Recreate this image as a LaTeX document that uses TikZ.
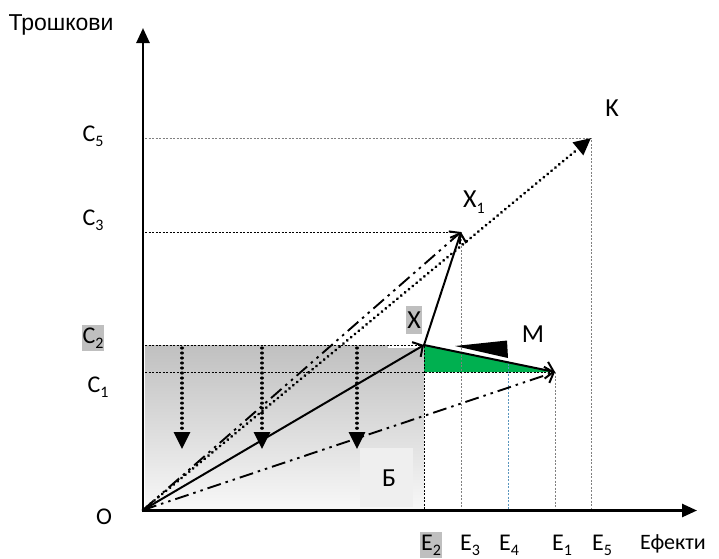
\documentclass[tikz,border=0pt]{standalone}
\usepackage{fontspec}
\setmainfont{Carlito}
\newfontfamily\arialf{Liberation Sans}
\usetikzlibrary{arrows.meta}
\definecolor{grn}{RGB}{0,176,80}
\definecolor{lgray}{RGB}{191,191,191}
\definecolor{bgray}{RGB}{239,239,239}
\definecolor{shadetop}{RGB}{192,192,192}
\definecolor{bluedot}{RGB}{90,150,190}
\newcommand\sbx[1]{\raisebox{-0.45ex}{\fontsize{16}{16}\selectfont #1}}
\begin{document}
\begin{tikzpicture}[x=1pt,y=-1pt,
  axisline/.style={line width=2.6pt,-{Triangle[length=15pt,width=13pt]}},
  vec/.style={line width=2pt,-{Straight Barb[length=7.5pt,width=17pt,line width=2pt]}},
  dashdot/.style={line width=1.9pt,dash pattern=on 14pt off 5pt on 2.5pt off 5pt on 2.5pt off 5pt,
     -{Straight Barb[length=7.5pt,width=17pt,line width=2pt]}},
  dotvec/.style={line width=3.2pt,line cap=round,dash pattern=on 0.01pt off 5pt,
     -{Triangle[length=17pt,width=16pt,line cap=butt]}},
  guide/.style={line width=0.8pt,dash pattern=on 2pt off 1.5pt},
  lab/.style={inner sep=0pt,font=\fontsize{24}{26}\selectfont},
  biglab/.style={inner sep=0pt,font=\fontsize{26}{28}\selectfont},
]
\useasboundingbox (0,0) rectangle (719,558);
\fill[white] (0,0) rectangle (719,558);

% points
\coordinate (O) at (143,510);
\coordinate (X) at (424,345);
\coordinate (X1) at (461,232);
\coordinate (M) at (555,372);
\coordinate (K) at (591,138);
\coordinate (C5) at (145,138);
\coordinate (C3) at (145,232);
\coordinate (C2) at (145,345);
\coordinate (C1) at (145,372);
\coordinate (E2) at (424,510);
\coordinate (E3) at (461,510);
\coordinate (E4) at (508,510);
\coordinate (E1) at (555,510);
\coordinate (E5) at (591,510);
\coordinate (E4t) at (508,360);

% shaded area
\shade[top color=shadetop,bottom color=white!97!black] (145,345) rectangle (424,509);
\fill[bgray] (360,448) rectangle (413,507);
\fill[white] (388,343) rectangle (422,347.5);

% green triangle
\fill[grn] (X) -- (424,372) -- (M) -- cycle;

% guides
\draw[guide,gray] (C5) -- (K) -- (E5);
\draw[guide] (C3) -- (X1);
\draw[guide,gray] (X1) -- (E3);
\draw[guide] (C2) -- (X) -- (E2);
\draw[guide] (C1) -- (M);
\draw[guide,gray] (M) -- (E1);
\draw[guide,bluedot] (E4t) -- (E4);

% vertical dotted arrows
\coordinate (v1a) at (182,348); \coordinate (v1b) at (182,449);
\coordinate (v2a) at (262,348); \coordinate (v2b) at (262,449);
\coordinate (v3a) at (357,348); \coordinate (v3b) at (357,449);
\draw[dotvec] (v1a) -- (v1b);
\draw[dotvec] (v2a) -- (v2b);
\draw[dotvec] (v3a) -- (v3b);

% vectors
\draw[dotvec] (O) -- (K);
\draw[dashdot] (O) -- (X1);
\draw[dashdot] (O) -- (M);
\draw[vec] (O) -- (X);
\draw[vec] (X) -- (X1);

% black wedge
\fill[black] (455,346) -- (507,340.5) -- (508,358) -- cycle;
\draw[white,line width=1.8pt] (452,348.8) -- (510,360.8);
\draw[vec] (X) -- (M);

% axes
\draw[axisline] (143,512) -- (143,28);
\draw[axisline] (141.7,510.5) -- (697,510.5);

% labels
\node[inner sep=0pt,anchor=base,font=\arialf\fontsize{23}{25}\selectfont] (ty) at (61,30) {Трошкови};
\node[inner sep=0pt,anchor=base,font=\fontsize{22}{24}\selectfont] (tx) at (673,549) {Ефекти};
\node[lab] (o) at (104,517) {О};

\node[lab] (lc5) at (93,136) {C\sbx{5}};
\node[lab] (lc3) at (93,220) {C\sbx{3}};
\node[lab,fill=lgray,inner ysep=3pt,inner xsep=1pt] (lc2) at (93,338) {C\sbx{2}};
\node[lab] (lc1) at (98,387) {C\sbx{1}};

\node[lab,fill=lgray,inner ysep=3pt,inner xsep=1pt] (le2) at (431,545) {E\sbx{2}};
\node[lab] (le3) at (470,545) {E\sbx{3}};
\node[lab] (le4) at (509,545) {E\sbx{4}};
\node[lab] (le1) at (562,545) {E\sbx{1}};
\node[lab] (le5) at (602,545) {E\sbx{5}};

\node[biglab] (lx1) at (474,202) {X\sbx{1}};
\node[biglab] (lk) at (612,108) {K};
\node[biglab,fill=lgray,inner ysep=6pt,inner xsep=1pt] (lx) at (414,320) {X};
\node[biglab] (lm) at (533,334) {M};
\node[biglab] (lb) at (389,478) {Б};
\end{tikzpicture}
\end{document}
